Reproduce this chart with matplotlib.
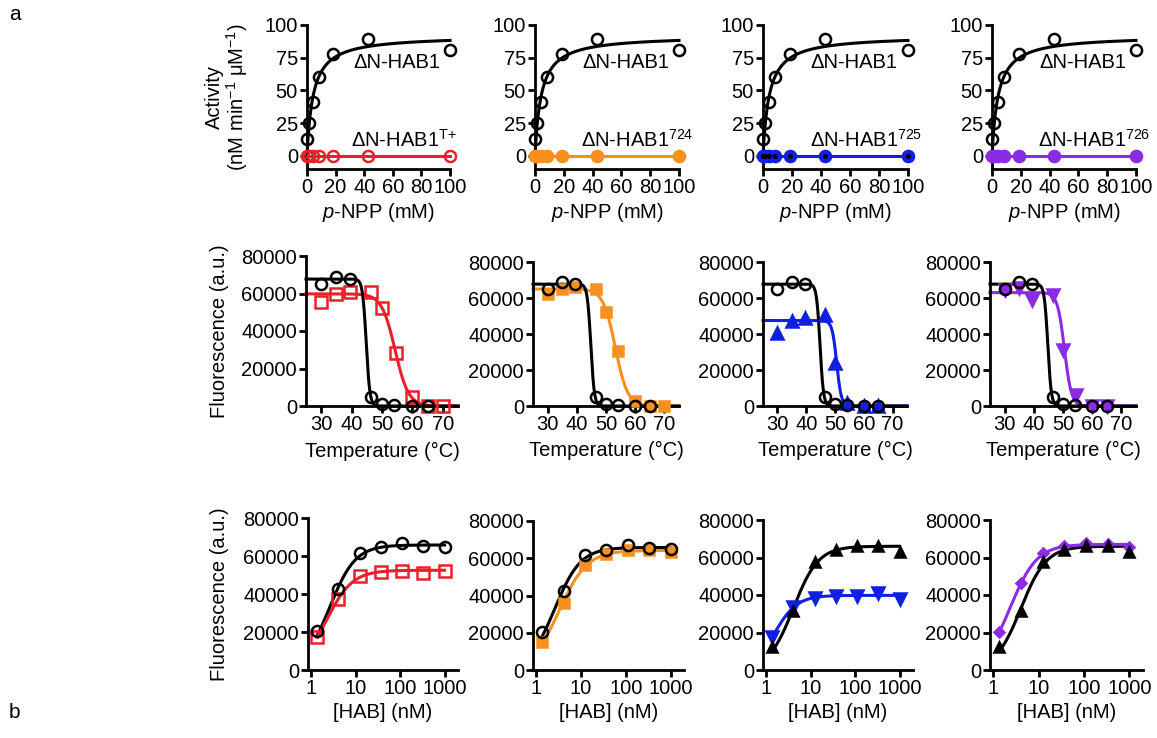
import numpy as np
import matplotlib
matplotlib.use("Agg")
import matplotlib.pyplot as plt
from matplotlib.ticker import LogLocator, NullFormatter

plt.rcParams['font.family'] = ['Liberation Sans', 'DejaVu Sans']
plt.rcParams['mathtext.fontset'] = 'custom'
plt.rcParams['mathtext.rm'] = 'Liberation Sans'
plt.rcParams['mathtext.it'] = 'Liberation Sans:italic'
plt.rcParams['mathtext.default'] = 'regular'

# ---------------- colours ----------------
BLACK = '#000000'
RED = '#E8202A'
ORANGE = '#F7901E'
BLUE = '#1020E0'
PURPLE = '#8C2BE4'

# ---------------- row 1: activity vs p-NPP ----------------
npp_mM = [0.3, 1.2, 4.4, 8.4, 18.5, 43, 100]
act_wt = [13, 25, 41, 60, 78, 89, 81]
act_tplus = [0, 0, 0, 0, 0, 0, 0]
act_724 = [0, 0, 0, 0, 0, 0, 0]
act_725 = [0, 0, 0, 0, 0, 0, 0]
act_726 = [0, 0, 0, 0, 0, 0, 0]
mm_wt = [92, 4.3]            # Vmax, Km of the fitted curve
variant_names = ['T{+}', '724', '725', '726']

# ---------------- row 2: thermal melt ----------------
temp_wt = [30, 35, 39.5, 46.5, 50, 54, 60, 65]
melt_wt = [65000, 68800, 67800, 4800, 1300, 300, 0, 0]
temp_tplus = [30, 35, 39.5, 46.5, 50, 54.5, 60, 65, 70]
melt_tplus = [55500, 59800, 60800, 60800, 52300, 28300, 4800, 200, 0]
temp_724 = [30, 35, 39.5, 46.5, 50, 54, 60, 65, 70]
melt_724 = [62200, 65000, 66000, 65000, 52300, 30700, 2800, 0, 0]
temp_725 = [30, 35, 39.5, 46.5, 50, 54, 60, 65]
melt_725 = [40400, 47300, 49100, 50600, 24000, 1800, 0, 0]
temp_726 = [30, 35, 39.5, 46.5, 50, 54.5, 60, 65]
melt_726 = [64500, 65500, 59000, 61800, 31100, 5950, 0, 0]
# Boltzmann fits: top, Tm, slope
bz_wt = [67700, 44.8, 0.6]
bz_tplus = [59800, 54.3, 2.2]
bz_724 = [65000, 53.2, 2.1]
bz_725 = [47500, 50.6, 0.8]
bz_726 = [63000, 50.5, 1.2]

# ---------------- row 3: titration ----------------
hab_nM = [1.37, 4.12, 12.3, 37, 111, 333, 1000]
tit_wt_a = [20300, 42500, 61800, 64500, 67000, 65500, 65000]
tit_tplus = [17200, 37500, 49500, 51800, 52300, 51300, 52300]
tit_724 = [15200, 36100, 56600, 62500, 64300, 64300, 63400]
tit_wt_b = [12400, 31500, 57800, 64200, 66300, 66300, 63100]
tit_725 = [17800, 33400, 38200, 39600, 39600, 40900, 37900]
tit_726 = [20400, 46200, 62200, 66300, 67600, 67200, 65800]
# Hill fits: Bmax, K, h
hill_wt_a = [65800, 2.6, 1.5]
hill_tplus = [52500, 2.22, 1.49]
hill_724 = [64200, 3.3, 1.4]
hill_wt_b = [66000, 4.1, 1.55]
hill_725 = [39800, 1.55, 1.69]
hill_726 = [67000, 2.39, 1.48]

# ---------------- figure ----------------
W, H = 1157, 738
fig = plt.figure(figsize=(W / 100, H / 100), dpi=100)

def add_ax(x0, x1, ytop, ybot):
    return fig.add_axes([x0 / W, 1 - ybot / H, (x1 - x0) / W, (ybot - ytop) / H])

TICK_FS = 14.5
LAB_FS = 14.5
LW = 2.2

def style(ax):
    for s in ['top', 'right']:
        ax.spines[s].set_visible(False)
    for s in ['left', 'bottom']:
        ax.spines[s].set_linewidth(2.0)
    ax.tick_params(which='major', direction='out', length=5, width=2.0,
                   labelsize=TICK_FS, pad=1.5)
    ax.tick_params(which='minor', direction='out', length=3, width=1.5)

def mm(x, p):
    x = np.asarray(x, float)
    return p[0] * x / (p[1] + x)

def boltz(t, p):
    return p[0] / (1 + np.exp((np.asarray(t, float) - p[1]) / p[2]))

def hill(x, p):
    x = np.asarray(x, float)
    return p[0] * x ** p[2] / (p[1] ** p[2] + x ** p[2])

# ---- row 1
row1_x = [(307, 450), (535, 679), (763, 908), (992, 1136)]
row1_var = [act_tplus, act_724, act_725, act_726]
row1_col = [RED, ORANGE, BLUE, PURPLE]
row1_fill = [False, True, True, True]
xs = np.linspace(0, 100, 400)
for i, (x0, x1) in enumerate(row1_x):
    ax = add_ax(x0, x1, 25, 169)
    style(ax)
    ax.plot(xs, mm(xs, mm_wt), color=BLACK, lw=LW, zorder=2, clip_on=False)
    ax.plot(npp_mM, act_wt, 'o', ms=8, mfc='none', mec=BLACK, mew=1.8,
            zorder=3, clip_on=False)
    c = row1_col[i]
    ax.plot(npp_mM, row1_var[i], '-o', color=c, lw=LW, ms=8,
            mfc=(c if row1_fill[i] else 'none'), mec=c, mew=1.8,
            zorder=4, clip_on=False)
    if i == 2:
        ax.plot(npp_mM, row1_var[i], 'o', ms=2.5, color=BLACK, zorder=5,
                clip_on=False)
    ax.set_xlim(0, 100)
    ax.set_ylim(-10, 100)
    ax.set_xticks([0, 20, 40, 60, 80, 100])
    ax.set_yticks([0, 25, 50, 75, 100])
    ax.text(93, 67.3, 'ΔN-HAB1', ha='right', va='baseline', fontsize=LAB_FS)
    xr = 105 if i == 0 else 110
    ax.text(xr, 6.9, 'ΔN-HAB1$^{%s}$' % variant_names[i], ha='right',
            va='baseline', fontsize=LAB_FS)
    ax.set_xlabel(r'$\mathit{p}$-NPP (mM)', fontsize=LAB_FS)
    ax.xaxis.set_label_coords(0.5, -0.22)
    if i == 0:
        ax.set_ylabel('Activity\n(nM min$^{-1}$ μM$^{-1}$)', fontsize=LAB_FS,
                      linespacing=1.0)
        ax.yaxis.set_label_coords((250 - 307) / 143, 0.5)

# ---- row 2
row2_pos = [(306, 458, 256), (533, 679, 262), (763, 907, 262), (990, 1136, 262)]
row2_t = [temp_tplus, temp_724, temp_725, temp_726]
row2_y = [melt_tplus, melt_724, melt_725, melt_726]
row2_fit = [bz_tplus, bz_724, bz_725, bz_726]
row2_mk = [('s', False, 8), ('s', True, 7.5), ('^', True, 8), ('v', True, 8)]
ts = np.linspace(25, 75, 500)
for i, (x0, x1, yt) in enumerate(row2_pos):
    ax = add_ax(x0, x1, yt, 406)
    style(ax)
    c = row1_col[i]
    m, filled, ms = row2_mk[i]
    ax.plot(ts, boltz(ts, row2_fit[i]), color=c, lw=LW, zorder=2, clip_on=False)
    ax.plot(ts, boltz(ts, bz_wt), color=BLACK, lw=LW, zorder=2, clip_on=False)
    ax.plot(row2_t[i], row2_y[i], m, ms=ms, mfc=(c if filled else 'none'),
            mec=c, mew=1.8, zorder=3, clip_on=False)
    ax.plot(temp_wt, melt_wt, 'o', ms=8, mfc='none', mec=BLACK, mew=1.8,
            zorder=4, clip_on=False)
    ax.set_xlim(25, 75)
    ax.set_ylim(0, 80000)
    ax.set_xticks([30, 40, 50, 60, 70])
    ax.set_yticks([0, 20000, 40000, 60000, 80000],
                  ['0', '20000', '40000', '60000', '80000'])
    ax.set_xlabel('Temperature (°C)', fontsize=LAB_FS)
    ax.xaxis.set_label_coords(0.5, -0.24)
    if i == 0:
        ax.set_ylabel('Fluorescence (a.u.)', fontsize=LAB_FS)
        ax.yaxis.set_label_coords((229 - 306) / 152, 0.5)

# ---- row 3
row3_pos = [(308, 458, 518), (533, 684, 521), (763, 913, 520), (990, 1143, 520)]
row3_ref = [(tit_wt_a, hill_wt_a, 'o', False), (tit_wt_a, hill_wt_a, 'o', False),
            (tit_wt_b, hill_wt_b, '^', True), (tit_wt_b, hill_wt_b, '^', True)]
row3_var = [(tit_tplus, hill_tplus, 's', False, 8), (tit_724, hill_724, 's', True, 7.5),
            (tit_725, hill_725, 'v', True, 8), (tit_726, hill_726, 'D', True, 5.5)]
hs = np.logspace(np.log10(hab_nM[0]), np.log10(hab_nM[-1]), 300)
for i, (x0, x1, yt) in enumerate(row3_pos):
    ax = add_ax(x0, x1, yt, 670)
    style(ax)
    c = row1_col[i]
    ry, rp, rm, rf = row3_ref[i]
    vy, vp, vm, vf, vms = row3_var[i]
    ax.set_xscale('log')
    ax.plot(hs, hill(hs, rp), color=BLACK, lw=LW, zorder=2)
    ax.plot(hs, hill(hs, vp), color=c, lw=LW, zorder=2)
    ax.plot(hab_nM, vy, vm, ms=vms, mfc=(c if vf else 'none'), mec=c, mew=1.8,
            zorder=3, clip_on=False)
    ax.plot(hab_nM, ry, rm, ms=(8 if not rf else 7), mfc=(BLACK if rf else 'none'),
            mec=BLACK, mew=1.8, zorder=4, clip_on=False)
    ax.set_xlim(0.85, 2000)
    ax.set_ylim(0, 80000)
    ax.set_xticks([1, 10, 100, 1000], ['1', '10', '100', '1000'])
    ax.xaxis.set_minor_locator(LogLocator(base=10, subs=np.arange(2, 10)))
    ax.xaxis.set_minor_formatter(NullFormatter())
    ax.set_yticks([0, 20000, 40000, 60000, 80000],
                  ['0', '20000', '40000', '60000', '80000'])
    ax.set_xlabel('[HAB] (nM)', fontsize=LAB_FS)
    ax.xaxis.set_label_coords(0.5, -0.22)
    if i == 0:
        ax.set_ylabel('Fluorescence (a.u.)', fontsize=LAB_FS)
        ax.yaxis.set_label_coords((229 - 308) / 150, 0.5)

fig.text(15 / W, 1 - 15 / H, 'a', ha='center', va='center', fontsize=15)
fig.text(14 / W, 1 - 712 / H, 'b', ha='center', va='center', fontsize=15)

fig.savefig('out.png', dpi=100)
